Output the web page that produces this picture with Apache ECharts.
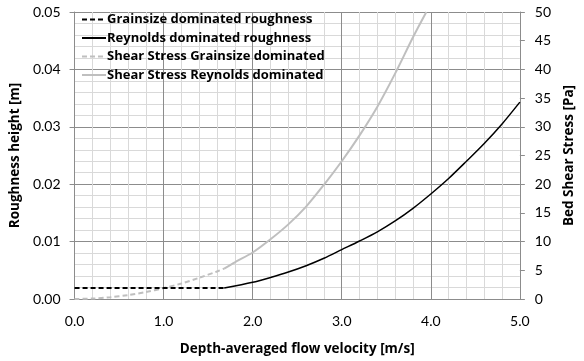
<!DOCTYPE html>
<html><head><meta charset="utf-8">
<script src="https://cdn.jsdelivr.net/npm/echarts@6/dist/echarts.min.js"></script>
<style>html,body{margin:0;padding:0;background:#fff}#c{width:584px;height:361px}</style>
</head><body><div id="c"></div>
<script>
// Data
const seriesNames = ['Grainsize dominated roughness','Reynolds dominated roughness','Shear Stress Grainsize dominated','Shear Stress Reynolds dominated'];
// Roughness height [m]
const grainVel = [0, 1.68];
const grainRough = [0.0019, 0.0019];
const reyVel = [1.68, 2.0, 2.2, 2.4, 2.6, 2.8, 3.0, 3.2, 3.4, 3.6, 3.8, 4.0, 4.2, 4.4, 4.6, 4.8, 5.0];
const reyRough = [0.0019, 0.0029, 0.00375, 0.0047, 0.0058, 0.0071, 0.0086, 0.0101, 0.0117, 0.0136, 0.0158, 0.0183, 0.0210, 0.0240, 0.0271, 0.0305, 0.0343];
// Bed shear stress [Pa]
const tauGrainVel = [0, 0.2, 0.4, 0.6, 0.8, 1.0, 1.2, 1.4, 1.6, 1.68];
const tauGrain = [0, 0.08, 0.3, 0.68, 1.2, 1.9, 2.7, 3.7, 4.8, 5.3];
const tauReyVel = [1.68, 1.8, 2.0, 2.2, 2.4, 2.6, 2.8, 3.0, 3.2, 3.4, 3.6, 3.8, 3.95];
const tauRey = [5.3, 6.4, 8.1, 10.4, 13.0, 16.1, 19.9, 24.0, 28.5, 33.5, 39.3, 45.6, 50];
// Axis ticks
const xTicks = {min: 0, max: 5, interval: 1};
const yLeftTicks = {min: 0, max: 0.05, interval: 0.01};
const yRightTicks = {min: 0, max: 50, interval: 5};

const zip = (a, b) => a.map((v, i) => [v, b[i]]);
const FONT = 'Lato';
const BOLD = 'Open Sans';
const chart = echarts.init(document.getElementById('c'), null, {renderer: 'canvas'});
chart.setOption({
  animation: false,
  backgroundColor: '#fff',
  grid: {left: 73, right: 51, top: 12, bottom: 59, containLabel: false},
  legend: {
    orient: 'vertical', left: 81, top: 13, itemGap: 5.5, itemWidth: 24, itemHeight: 13,
    padding: 0,
    itemStyle: {opacity: 0},
    textStyle: {fontFamily: BOLD, fontWeight: 'bold', fontSize: 13, color: '#000', padding: [0, 0, 0, -4]},
    data: seriesNames
  },
  xAxis: {
    type: 'value', min: xTicks.min, max: xTicks.max, interval: xTicks.interval,
    name: 'Depth-averaged flow velocity [m/s]', nameLocation: 'middle', nameGap: 43,
    nameTextStyle: {fontFamily: BOLD, fontWeight: 'bold', fontSize: 13.5, color: '#000'},
    axisLine: {show: true, lineStyle: {color: '#8c8c8c', width: 1}},
    axisTick: {show: false},
    axisLabel: {fontFamily: FONT, fontSize: 14, color: '#000', margin: 15, formatter: v => v.toFixed(1)},
    splitLine: {show: true, lineStyle: {color: '#8c8c8c', width: 1}},
    minorTick: {show: false, splitNumber: 5},
    minorSplitLine: {show: true, lineStyle: {color: '#d9d9d9', width: 1}}
  },
  yAxis: [{
    type: 'value', min: yLeftTicks.min, max: yLeftTicks.max, interval: yLeftTicks.interval,
    name: 'Roughness height [m]', nameLocation: 'middle', nameGap: 52, nameRotate: 90,
    nameTextStyle: {fontFamily: BOLD, fontWeight: 'bold', fontSize: 13.5, color: '#000'},
    axisLine: {show: true, lineStyle: {color: '#8c8c8c', width: 1}},
    axisTick: {show: true, length: 5, inside: false, lineStyle: {color: '#8c8c8c'}},
    axisLabel: {fontFamily: FONT, fontSize: 14, color: '#000', margin: 14, formatter: v => v.toFixed(2)},
    splitLine: {show: true, lineStyle: {color: '#8c8c8c', width: 1}},
    minorTick: {show: false, splitNumber: 5},
    minorSplitLine: {show: true, lineStyle: {color: '#d9d9d9', width: 1}}
  }, {
    type: 'value', position: 'right', min: yRightTicks.min, max: yRightTicks.max, interval: yRightTicks.interval,
    name: 'Bed Shear Stress [Pa]', nameLocation: 'middle', nameGap: 41, nameRotate: 90,
    nameTextStyle: {fontFamily: BOLD, fontWeight: 'bold', fontSize: 13.5, color: '#000'},
    axisLine: {show: true, lineStyle: {color: '#8c8c8c', width: 1}},
    axisTick: {show: true, length: 5, inside: false, lineStyle: {color: '#8c8c8c'}},
    axisLabel: {fontFamily: FONT, fontSize: 14, color: '#000', margin: 15},
    splitLine: {show: false}
  }],
  series: [
    {name: seriesNames[0], type: 'line', yAxisIndex: 0, data: zip(grainVel, grainRough), showSymbol: false, symbol: 'none',
     lineStyle: {color: '#000', width: 2, type: [5, 3]}, itemStyle: {color: '#000'}, z: 4},
    {name: seriesNames[1], type: 'line', yAxisIndex: 0, data: zip(reyVel, reyRough), showSymbol: false, symbol: 'none', smooth: 0.3,
     lineStyle: {color: '#000', width: 1.5}, itemStyle: {color: '#000'}, z: 4},
    {name: seriesNames[2], type: 'line', yAxisIndex: 1, data: zip(tauGrainVel, tauGrain), showSymbol: false, symbol: 'none', smooth: 0.3,
     lineStyle: {color: '#bfbfbf', width: 2, type: [5, 3]}, itemStyle: {color: '#bfbfbf'}, z: 3},
    {name: seriesNames[3], type: 'line', yAxisIndex: 1, data: zip(tauReyVel, tauRey), showSymbol: false, symbol: 'none', smooth: 0.3,
     lineStyle: {color: '#bfbfbf', width: 2}, itemStyle: {color: '#bfbfbf'}, z: 3}
  ]
});
</script></body></html>
